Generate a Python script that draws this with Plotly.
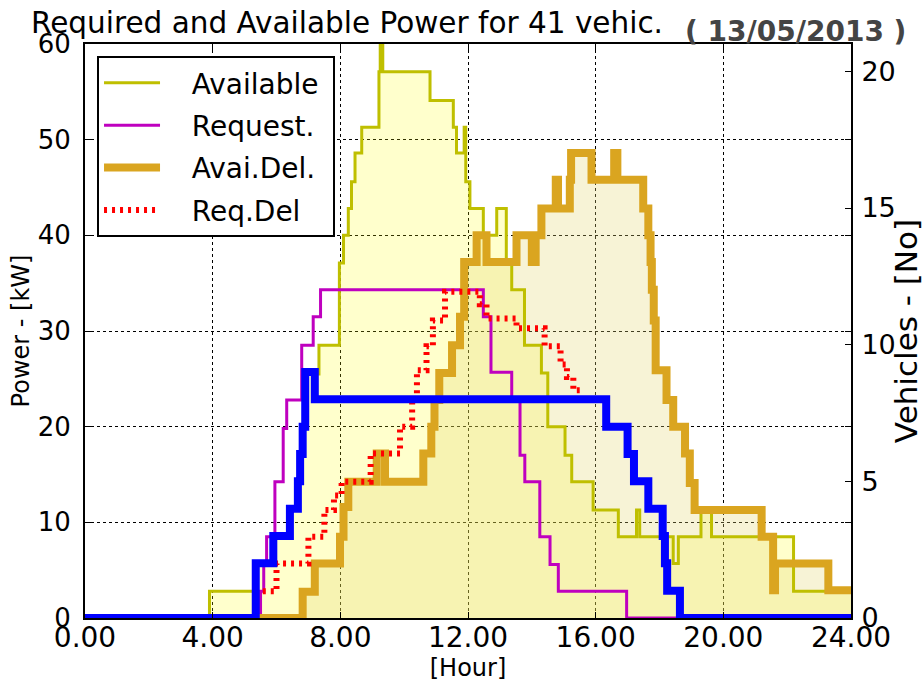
import plotly.graph_objects as go

# ---------------- data (step functions: value holds from t[i] to t[i+1]) ----------------
avail_t = [0, 3.9, 5.35, 5.9, 6.42, 6.67, 6.74, 6.82, 6.9, 7.33, 7.97, 8.1, 8.25, 8.35, 8.46, 8.67,
           9.21, 9.25, 9.33, 10.81, 11.54, 11.64, 11.88, 11.93, 12.06, 12.48, 12.9, 13.2, 13.37,
           13.77, 14.3, 14.5, 15.04, 15.25, 15.92, 16.71, 17.28, 17.38, 18.43, 18.59, 19.3, 19.63,
           22.2, 24.0]
avail_kw = [0, 2.8, 5.7, 8.5, 11.3, 14.2, 17.0, 19.8, 25.5, 28.5, 37.1, 40.0, 42.8, 45.6, 48.6, 51.3,
            57.1, 66.0, 57.1, 54.1, 51.3, 48.6, 51.3, 45.6, 42.8, 40.0, 42.8, 37.2, 34.3,
            28.5, 25.6, 20.0, 17.0, 14.25, 11.3, 8.5, 11.3, 8.5, 5.7, 8.5, 11.3, 8.5,
            2.8, 2.8]

req_t = [0, 5.5, 5.6, 5.69, 5.95, 6.21, 6.32, 6.79, 7.15, 7.38, 12.48, 12.72, 13.37, 13.63, 13.78,
         14.25, 14.57, 14.83, 16.97, 24.0]
req_kw = [0, 2.8, 5.7, 8.5, 14.25, 19.8, 22.8, 28.5, 31.5, 34.3, 31.5, 25.7, 22.8, 17.0, 14.25,
          8.5, 5.6, 2.8, 0, 0]

adel_t = [0, 6.82, 7.2, 7.99, 8.1, 8.25, 9.14, 9.4, 10.6, 10.85, 10.95, 11.1, 11.5, 11.75, 11.88,
          12.27, 12.58, 13.52, 14.0, 14.12, 14.3, 14.75, 14.82, 15.19, 15.23, 15.87, 16.58, 16.68,
          17.49, 17.65, 17.72, 17.76, 17.82, 17.88, 18.22, 18.43, 18.8, 18.95, 19.1, 21.2, 21.56,
          21.62, 23.29, 24.0]
adel_kw = [0, 2.75, 5.7, 8.5, 11.6, 14.25, 17.2, 14.25, 17.2, 20.0, 22.8, 25.6, 28.5, 31.5, 37.2,
           40.0, 37.2, 40.0, 37.2, 40.0, 42.8, 45.8, 42.8, 45.8, 48.6, 45.8, 48.6, 45.8,
           42.8, 40.0, 37.2, 34.3, 31.1, 25.9, 22.8, 20.0, 17.2, 14.1, 11.3, 8.5, 2.9,
           5.7, 2.9, 2.9]

rdel_t = [5.57, 6.0, 7.0, 7.5, 7.8, 8.04, 8.95, 9.87, 10.25, 10.4, 10.7, 10.9, 11.28, 12.37, 12.58,
          13.52, 14.4, 14.9, 15.1, 15.3, 15.5]
rdel_kw = [2.8, 5.7, 8.5, 11.3, 12.8, 14.25, 17.2, 20.0, 22.8, 25.9, 28.4, 31.1, 34.1, 32.8, 31.3,
           30.3, 28.4, 26.5, 25.2, 23.8, 23.8]

veh_t = [0, 5.35, 5.9, 6.42, 6.67, 6.74, 6.82, 6.9, 7.2, 16.33, 17.0, 17.2, 17.65, 18.1, 18.17,
         18.24, 18.64, 24.0]
veh_n = [0, 2, 3, 4, 5, 6, 7, 9, 8, 7, 6, 5, 4, 3, 2, 1, 0, 0]

hour_ticks = [0, 4, 8, 12, 16, 20, 24]
hour_labels = ["0.00", "4.00", "8.00", "12.00", "16.00", "20.00", "24.00"]
power_ticks = [0, 10, 20, 30, 40, 50, 60]
veh_ticks = [0, 5, 10, 15, 20]

legend_names = ["Available", "Request.", "Avai.Del.", "Req.Del"]

title_text = "Required and Available Power for 41 vehic."
date_text = "( 13/05/2013 )"

FONT = "DejaVu Sans"
PAD = "\u00a0\u00a0\u00a0"
TAIL = "\u00a0"

fig = go.Figure()

# fills
fig.add_trace(go.Scatter(x=avail_t, y=avail_kw, mode="lines", line=dict(width=0, shape="hv"),
                         fill="tozeroy", fillcolor="rgba(255,255,0,0.2)", showlegend=False,
                         hoverinfo="skip"))
fig.add_trace(go.Scatter(x=adel_t, y=adel_kw, mode="lines", line=dict(width=0, shape="hv"),
                         fill="tozeroy", fillcolor="rgba(229,213,113,0.29)", showlegend=False,
                         hoverinfo="skip"))

# lines
fig.add_trace(go.Scatter(x=avail_t, y=avail_kw, mode="lines", name=PAD + legend_names[0] + TAIL,
                         line=dict(color="#bfbf00", width=3, shape="hv"), legendgroup="a"))
fig.add_trace(go.Scatter(x=req_t, y=req_kw, mode="lines", name=PAD + legend_names[1],
                         line=dict(color="#bf00bf", width=3, shape="hv"), legendgroup="b"))
fig.add_trace(go.Scatter(x=adel_t, y=adel_kw, mode="lines", name=PAD + legend_names[2],
                         line=dict(color="#daa520", width=8, shape="hv"), legendgroup="c"))
fig.add_trace(go.Scatter(x=rdel_t, y=rdel_kw, mode="lines", name=PAD + legend_names[3],
                         line=dict(color="#ff0000", width=6, shape="hv", dash="3px,5px"),
                         legendgroup="d"))
fig.add_trace(go.Scatter(x=veh_t, y=veh_n, mode="lines", name="Vehicles", yaxis="y2",
                         line=dict(color="#0000ff", width=8, shape="hv"), showlegend=False))

axis_common = dict(showline=True, linecolor="black", linewidth=2, ticks="inside", ticklen=6,
                   tickcolor="black", zeroline=False, automargin=False)

fig.update_layout(
    width=924, height=684,
    margin=dict(l=85, r=73, t=44, b=66),
    paper_bgcolor="white", plot_bgcolor="white",
    font=dict(family=FONT, color="black"),
    xaxis=dict(range=[0, 24], tickvals=hour_ticks, ticktext=hour_labels, mirror="ticks",
               showgrid=True, gridcolor="black", gridwidth=1, griddash="3px,3px",
               tickfont=dict(family=FONT, size=28, color="black"), ticklabelstandoff=-7,
               title=dict(text="[Hour]", font=dict(family=FONT, size=24), standoff=4),
               **axis_common),
    yaxis=dict(range=[0, 60], tickvals=power_ticks, mirror="ticks",
               showgrid=True, gridcolor="black", gridwidth=1, griddash="3px,3px",
               tickfont=dict(family=FONT, size=26, color="black"), ticklabelstandoff=7,
               title=dict(text="Power - [kW]", font=dict(family=FONT, size=24), standoff=1),
               **axis_common),
    yaxis2=dict(range=[0, 21], tickvals=veh_ticks, overlaying="y", side="right",
                showgrid=False, ticklabelstandoff=3,
                tickfont=dict(family=FONT, size=27, color="black"),
                title=dict(text="Vehicles - [No]", font=dict(family=FONT, size=31), standoff=2),
                **axis_common),
    legend=dict(x=0.0157, y=0.979, xanchor="left", yanchor="top", bgcolor="white",
                bordercolor="black", borderwidth=2, font=dict(family=FONT, size=28),
                tracegroupgap=3, itemwidth=56),
    showlegend=True,
)

fig.add_annotation(text=title_text, xref="paper", yref="paper", x=(29 - 85) / 766,
                   y=(618 - 23) / 574, xanchor="left", yanchor="middle", showarrow=False,
                   font=dict(family=FONT, size=29.5, color="black"))
fig.add_annotation(text="<b>" + date_text + "</b>", xref="paper", yref="paper",
                   x=(683 - 85) / 766, y=(618 - 31) / 574, xanchor="left", yanchor="middle",
                   showarrow=False, font=dict(family=FONT, size=28, color="#444444"))

fig.write_html("out.html", config={"displayModeBar": False},
               post_script="document.body.style.margin='0';")
